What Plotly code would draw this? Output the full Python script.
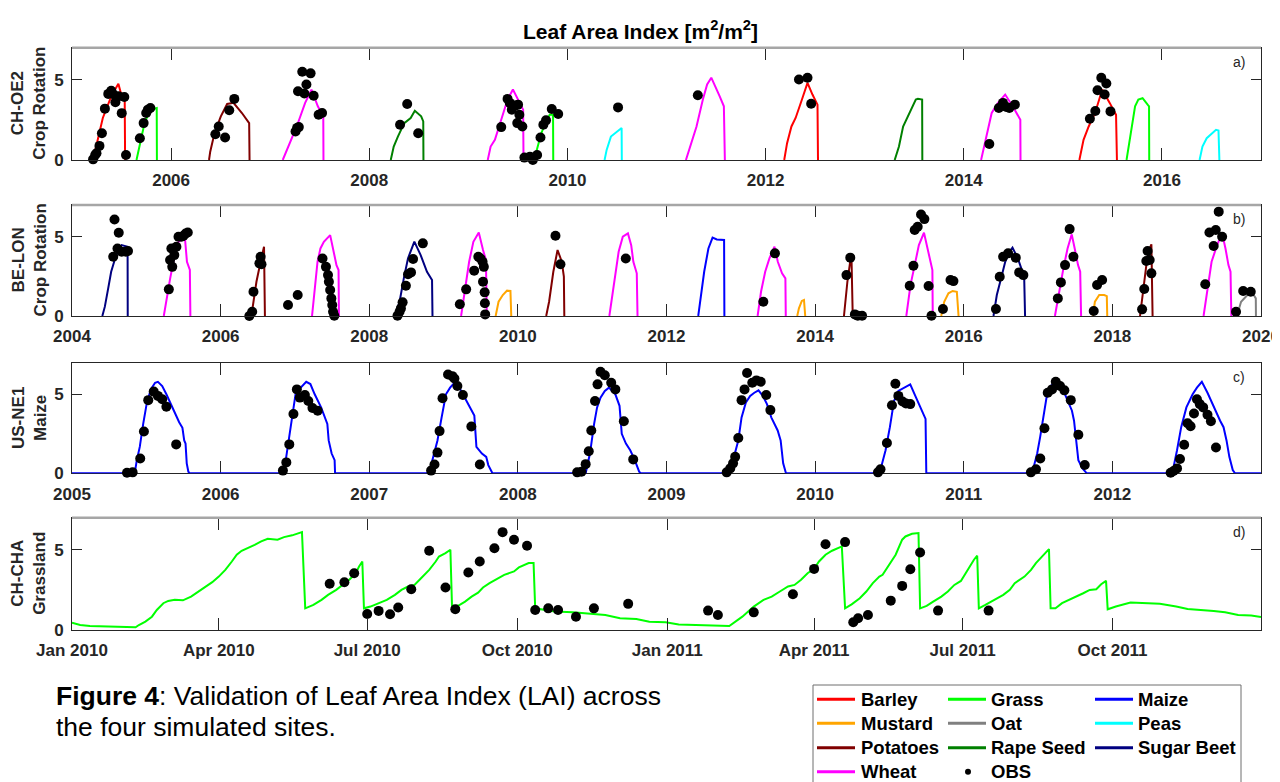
import pandas as pd
import plotly.graph_objects as go

FONT = "Liberation Sans, Arial, Helvetica, sans-serif"
AX = "#262626"

CROP_COLORS = {
    "Barley": "#FF0000", "Grass": "#00FF00", "Maize": "#0000FF",
    "Mustard": "#FFA500", "Oat": "#808080", "Peas": "#00FFFF",
    "Potatoes": "#800000", "Rape Seed": "#008000", "Sugar Beet": "#000080",
    "Wheat": "#FF00FF",
}
LEGEND_ORDER = [["Barley", "Mustard", "Potatoes", "Wheat"],
                ["Grass", "Oat", "Rape Seed", "OBS"],
                ["Maize", "Peas", "Sugar Beet"]]

# ---------------- Panel a : CH-OE2 crop rotation (decimal years, LAI) ----------------
A_BARLEY_T = [2005.212, 2005.277, 2005.311, 2005.396, 2005.468, 2005.502, 2005.532, 2005.536, None,
              2012.188, 2012.217, 2012.261, 2012.303, 2012.367, 2012.423, 2012.473, 2012.524, 2012.529, None,
              2015.167, 2015.209, 2015.261, 2015.325, 2015.367, 2015.397, 2015.473, 2015.537, 2015.546]
A_BARLEY_V = [0, 1.67, 2.62, 3.97, 4.75, 3.97, 3.77, 0, None,
              0, 1.05, 2.09, 2.62, 3.77, 4.81, 4.08, 3.45, 0, None,
              0, 1.26, 2.09, 2.93, 3.77, 4.39, 3.56, 2.82, 0]
A_GRASS_T = [2005.651, 2005.694, 2005.736, 2005.800, 2005.855, 2005.857, None,
             2009.664, 2009.694, 2009.736, 2009.779, 2009.821, 2009.855, 2009.857, None,
             2015.643, 2015.665, 2015.695, 2015.729, 2015.762, 2015.805, 2015.856, 2015.870, 2015.872]
A_GRASS_V = [0, 1.26, 2.41, 3.14, 3.24, 0, None,
             0, 0.63, 1.67, 2.30, 2.82, 2.82, 0, None,
             0, 0.84, 2.09, 3.35, 3.77, 3.85, 3.45, 3.35, 0]
A_POTATOES_T = [2006.383, 2006.395, 2006.438, 2006.502, 2006.566, 2006.630, 2006.715, 2006.788, 2006.792]
A_POTATOES_V = [0, 0.52, 1.67, 2.72, 3.49, 3.56, 2.93, 2.30, 0]
A_WHEAT_T = [2007.127, 2007.162, 2007.204, 2007.268, 2007.353, 2007.417, 2007.481, 2007.536, 2007.538, None,
             2009.196, 2009.225, 2009.268, 2009.332, 2009.396, 2009.450, 2009.502, 2009.553, 2009.557, None,
             2011.196, 2011.239, 2011.303, 2011.367, 2011.410, 2011.452, 2011.494, 2011.537, 2011.579, 2011.589, None,
             2014.175, 2014.218, 2014.282, 2014.346, 2014.418, 2014.494, 2014.558, 2014.571, 2014.573]
A_WHEAT_V = [0, 0.52, 1.05, 2.09, 3.56, 4.39, 3.35, 2.72, 0, None,
             0, 0.84, 1.26, 2.51, 3.77, 4.39, 3.77, 3.14, 0, None,
             0, 0.84, 2.09, 3.77, 4.71, 5.13, 4.60, 3.97, 3.35, 0, None,
             0, 1.26, 2.93, 3.56, 4.08, 3.35, 2.72, 2.51, 0]
A_RAPE_T = [2008.217, 2008.247, 2008.289, 2008.353, 2008.418, 2008.460, 2008.524, 2008.545, 2008.547, None,
            2013.303, 2013.346, 2013.388, 2013.431, 2013.473, 2013.516, 2013.537, 2013.567, 2013.580, 2013.582]
A_RAPE_V = [0, 0.84, 1.46, 2.30, 2.62, 3.07, 2.72, 2.41, 0, None,
            0, 0.84, 2.09, 2.62, 3.14, 3.77, 3.81, 3.77, 3.77, 0]
A_PEAS_T = [2010.375, 2010.396, 2010.439, 2010.481, 2010.515, 2010.547, 2010.549, None,
            2016.380, 2016.409, 2016.452, 2016.494, 2016.546, 2016.571, 2016.580]
A_PEAS_V = [0, 0.63, 1.46, 1.67, 1.88, 1.99, 0, None,
            0, 0.84, 1.36, 1.57, 1.88, 1.84, 0]
A_OBS_T = [2005.213, 2005.234, 2005.247, 2005.277, 2005.302, 2005.332, 2005.366, 2005.396, 2005.417, 2005.438,
           2005.472, 2005.502, 2005.528, 2005.545,
           2005.685, 2005.723, 2005.749, 2005.766, 2005.791,
           2006.447, 2006.481, 2006.545, 2006.587, 2006.638,
           2007.256, 2007.272, 2007.289, 2007.281, 2007.324, 2007.345, 2007.366, 2007.408, 2007.439, 2007.489, 2007.524,
           2008.311, 2008.383, 2008.494,
           2009.332, 2009.396, 2009.418, 2009.439, 2009.468, 2009.502, 2009.515, 2009.494, 2009.545, 2009.566,
           2009.622, 2009.651, 2009.694, 2009.728, 2009.757, 2009.784, 2009.842, 2009.907,
           2010.511, 2011.316,
           2012.337, 2012.423, 2012.460,
           2014.258, 2014.354, 2014.396, 2014.430, 2014.460, 2014.516,
           2015.273, 2015.328, 2015.350, 2015.388, 2015.439, 2015.422, 2015.481]
A_OBS_V = [0.04, 0.31, 0.42, 0.88, 1.67, 3.20, 4.12, 4.31, 4.10, 3.60,
           3.97, 2.92, 3.93, 0.31,
           1.36, 2.30, 2.93, 3.14, 3.24,
           1.61, 2.09, 1.40, 3.10, 3.81,
           1.78, 2.00, 2.05, 4.29, 5.50, 4.14, 4.71, 5.40, 4.00, 2.82, 2.93,
           2.20, 3.49, 1.67,
           2.05, 3.81, 3.56, 3.14, 3.39, 3.45, 2.82, 2.30, 2.09, 0.15,
           0.21, 0.00, 0.31, 1.40, 2.20, 2.47, 3.18, 2.87,
           3.28, 4.04,
           5.02, 5.13, 3.51,
           1.00, 3.24, 3.56, 3.31, 3.24, 3.45,
           2.57, 3.05, 4.35, 5.13, 4.77, 4.08, 3.03]

# ---------------- Panel b : BE-LON crop rotation ----------------
B_SUGARBEET_T = [2004.408, 2004.442, 2004.487, 2004.527, 2004.567, 2004.623, 2004.668, 2004.726, 2004.748, 2004.750, None,
                 2008.341, 2008.408, 2008.465, 2008.521, 2008.607, 2008.692, 2008.777, 2008.845, 2008.851, None,
                 2016.400, 2016.445, 2016.502, 2016.558, 2016.615, 2016.656, 2016.728, 2016.785, 2016.813, 2016.825]
B_SUGARBEET_V = [0, 0.59, 1.74, 2.79, 3.42, 4.16, 4.47, 4.37, 4.37, 0, None,
                 0, 0.90, 2.37, 3.63, 4.69, 3.84, 2.79, 2.27, 0, None,
                 0, 1.32, 2.37, 3.42, 4.05, 4.31, 3.63, 2.79, 2.48, 0]
B_WHEAT_T = [2005.235, 2005.281, 2005.321, 2005.377, 2005.434, 2005.518, 2005.547, 2005.586, 2005.593, None,
             2007.230, 2007.276, 2007.304, 2007.343, 2007.389, 2007.474, 2007.531, 2007.559, 2007.587, 2007.592, None,
             2009.236, 2009.287, 2009.344, 2009.401, 2009.474, 2009.531, 2009.570, 2009.582, None,
             2011.231, 2011.299, 2011.356, 2011.412, 2011.481, 2011.525, 2011.554, 2011.600, 2011.610, None,
             2013.226, 2013.272, 2013.328, 2013.385, 2013.453, 2013.498, 2013.555, 2013.600, 2013.605, None,
             2015.227, 2015.283, 2015.340, 2015.396, 2015.465, 2015.509, 2015.555, 2015.578, 2015.583, None,
             2017.227, 2017.284, 2017.341, 2017.397, 2017.453, 2017.493, 2017.538, 2017.567, 2017.579, None,
             2019.227, 2019.278, 2019.335, 2019.409, 2019.477, 2019.522, 2019.562, 2019.590, 2019.601]
B_WHEAT_V = [0, 1.32, 2.37, 3.74, 4.68, 5.00, 3.42, 2.90, 0, None,
             0, 2.16, 3.42, 4.26, 4.68, 5.10, 3.84, 3.21, 2.90, 0, None,
             0, 1.74, 3.42, 4.68, 5.27, 4.16, 3.53, 0, None,
             0, 2.37, 4.05, 5.00, 5.21, 4.47, 3.42, 2.69, 0, None,
             0, 1.53, 2.79, 3.63, 4.37, 3.42, 2.69, 2.37, 0, None,
             0, 1.95, 3.21, 4.47, 5.25, 4.26, 3.21, 2.90, 0, None,
             0, 1.53, 3.00, 4.26, 5.15, 4.26, 3.21, 2.79, 0, None,
             0, 1.74, 3.42, 4.47, 5.21, 4.26, 3.21, 2.79, 0]
B_POTATOES_T = [2006.414, 2006.482, 2006.538, 2006.584, 2006.596, None,
                2010.381, 2010.420, 2010.477, 2010.534, 2010.591, 2010.619, 2010.625, None,
                2014.388, 2014.434, 2014.478, 2014.490, 2014.506, None,
                2018.372, 2018.411, 2018.457, 2018.502, 2018.525, 2018.541]
B_POTATOES_V = [0, 2.16, 3.42, 4.37, 0, None,
                0, 0.90, 2.79, 4.16, 3.42, 2.48, 0, None,
                0, 2.16, 3.63, 3.53, 0, None,
                0, 1.53, 3.21, 4.26, 4.52, 0]
B_MUSTARD_T = [2009.701, 2009.740, 2009.797, 2009.854, 2009.900, 2009.911, None,
               2013.759, 2013.782, 2013.821, 2013.850, 2013.867, None,
               2015.697, 2015.737, 2015.794, 2015.850, 2015.907, 2015.930, None,
               2017.736, 2017.765, 2017.823, 2017.890, 2017.925, 2017.931]
B_MUSTARD_V = [0, 0.90, 1.32, 1.60, 1.58, 0, None,
               0, 0.48, 0.95, 1.01, 0, None,
               0, 0.90, 1.43, 1.58, 1.53, 0, None,
               0, 0.90, 1.32, 1.32, 1.25, 0]
B_MAIZE_T = [2012.427, 2012.461, 2012.507, 2012.564, 2012.620, 2012.677, 2012.775, 2012.779]
B_MAIZE_V = [0, 1.32, 2.79, 4.26, 4.94, 4.83, 4.79, 0]
B_OAT_T = [2019.675, 2019.732, 2019.817, 2019.856, 2019.902, 2019.930, 2019.932]
B_OAT_V = [0, 0.90, 1.32, 1.47, 1.32, 1.11, 0]
B_OBS_T = [2004.572, 2004.629, 2004.555, 2004.612, 2004.668, 2004.725, 2004.754,
           2005.303, 2005.320, 2005.349, 2005.337, 2005.377, 2005.405, 2005.433, 2005.473, 2005.501, 2005.530, 2005.558,
           2006.386, 2006.425, 2006.442, 2006.522, 2006.538, 2006.550,
           2006.907, 2007.037,
           2007.371, 2007.417, 2007.445, 2007.457, 2007.474, 2007.490, 2007.502, 2007.513, 2007.530,
           2008.380, 2008.408, 2008.426, 2008.449, 2008.493, 2008.522, 2008.562, 2008.590, 2008.721,
           2009.219, 2009.304, 2009.412, 2009.468, 2009.497, 2009.525, 2009.542, 2009.531, 2009.553, 2009.556, 2009.560,
           2010.506, 2010.573,
           2011.452,
           2013.303, 2013.459,
           2014.422, 2014.473, 2014.535, 2014.574, 2014.632,
           2015.273, 2015.323, 2015.340, 2015.380, 2015.425, 2015.470, 2015.527, 2015.566,
           2015.720, 2015.822, 2015.861,
           2016.433, 2016.484, 2016.530, 2016.597, 2016.700, 2016.746, 2016.802,
           2017.266, 2017.307, 2017.363, 2017.425, 2017.476,
           2017.749, 2017.794, 2017.862,
           2018.400, 2018.429, 2018.457, 2018.474, 2018.502, 2018.525,
           2019.250, 2019.306, 2019.391, 2019.363, 2019.477, 2019.431,
           2019.664, 2019.760, 2019.862]
B_OBS_V = [6.09, 5.25, 3.74, 4.26, 4.05, 4.05, 4.10,
           1.68, 3.53, 3.10, 4.26, 3.84, 4.37, 5.00, 5.00, 5.06, 5.20, 5.27,
           0.00, 0.27, 1.53, 3.32, 3.74, 3.26,
           0.69, 1.32,
           3.63, 3.10, 2.58, 2.16, 1.64, 1.11, 0.69, 0.27, 0.02,
           0.02, 0.27, 0.48, 0.86, 1.91, 2.63, 2.75, 3.59, 4.58,
           0.74, 1.68, 2.86, 3.74, 3.63, 3.42, 3.10, 2.16, 1.49, 0.80, 0.10,
           5.06, 3.26,
           3.63,
           0.90, 3.95,
           2.58, 3.68, 0.10, 0.02, 0.02,
           1.91, 3.17, 5.42, 5.63, 6.40, 6.11, 1.89, 0.02,
           0.44, 2.27, 2.20,
           0.44, 2.48, 3.74, 3.95, 3.68, 2.75, 2.58,
           1.11, 2.12, 3.21, 5.48, 3.74,
           0.32, 1.95, 2.27,
           0.42, 1.70, 3.47, 4.10, 3.53, 2.69,
           2.00, 5.27, 5.42, 4.41, 5.00, 6.58,
           0.27, 1.58, 1.53]

# ---------------- Panel c : US-NE1 maize ----------------
C_MAIZE_T = [2005.000,
             2005.422, 2005.436, 2005.456, 2005.479, 2005.502, 2005.530, 2005.559, 2005.578, 2005.607, 2005.635,
             2005.664, 2005.692, 2005.721, 2005.743, 2005.755, 2005.764, 2005.772, 2005.783, 2005.792,
             2006.425, 2006.448, 2006.476, 2006.504, 2006.539, 2006.576, 2006.604, 2006.633, 2006.676, 2006.718,
             2006.727, 2006.747, 2006.767, 2006.770,
             2007.402, 2007.431, 2007.459, 2007.487, 2007.516, 2007.544, 2007.573, 2007.601, 2007.645, 2007.678,
             2007.707, 2007.721, 2007.758, 2007.787, 2007.801, 2007.829,
             2008.456, 2008.485, 2008.513, 2008.533, 2008.556, 2008.585, 2008.613, 2008.656, 2008.684, 2008.699,
             2008.727, 2008.756, 2008.784, 2008.816, 2008.827,
             2009.391, 2009.420, 2009.454, 2009.483, 2009.505, 2009.534, 2009.563, 2009.591, 2009.619, 2009.648,
             2009.676, 2009.705, 2009.748, 2009.768, 2009.785, 2009.804,
             2010.417, 2010.445, 2010.474, 2010.503, 2010.531, 2010.560, 2010.602, 2010.640, 2010.674, 2010.702,
             2010.743, 2010.748,
             2011.443, 2011.471, 2011.494, 2011.514, 2011.537, 2011.557, 2011.586, 2011.619, 2011.648, 2011.671,
             2011.699, 2011.728, 2011.742, 2011.756, 2011.771, 2011.799, 2011.828,
             2012.383, 2012.412, 2012.435, 2012.463, 2012.498, 2012.540, 2012.569, 2012.602, 2012.640, 2012.682,
             2012.725, 2012.748, 2012.768, 2012.787, 2012.810, 2012.825,
             2013.000]
C_MAIZE_V = [0,
             0, 0.83, 1.67, 3.13, 4.38, 5.31, 5.73, 5.79, 5.52, 5.00,
             4.38, 3.75, 3.23, 2.88, 2.08, 1.88, 0.63, 0.10, 0,
             0, 1.46, 3.54, 5.00, 5.42, 5.79, 5.65, 5.00, 4.17, 3.13,
             2.08, 1.25, 0.83, 0,
             0, 1.04, 2.08, 3.54, 5.00, 5.42, 5.73, 5.52, 4.79, 4.17,
             3.65, 1.67, 1.25, 1.04, 0.52, 0,
             0, 1.25, 3.13, 4.17, 4.79, 5.21, 5.42, 5.00, 4.27, 2.50,
             1.88, 1.46, 0.90, 0.10, 0,
             0, 0.42, 1.04, 2.08, 3.54, 4.48, 4.90, 5.10, 5.25, 4.90,
             4.38, 3.54, 2.71, 2.08, 0.63, 0,
             0, 0.42, 1.46, 2.92, 4.58, 5.21, 5.42, 5.63, 4.90, 4.27,
             3.44, 0,
             0, 0.42, 1.25, 2.29, 3.54, 4.79, 5.52, 5.83, 5.73, 5.21,
             4.69, 3.96, 3.33, 2.08, 0.83, 0.31, 0,
             0, 0.42, 1.46, 2.92, 4.17, 5.00, 5.42, 5.79, 5.10, 4.17,
             3.33, 2.92, 2.08, 1.04, 0.21, 0,
             0]
C_OBS_T = [2005.370, 2005.408, 2005.459, 2005.484, 2005.513, 2005.550, 2005.578, 2005.607, 2005.635, 2005.701,
           2006.419, 2006.442, 2006.462, 2006.490, 2006.513, 2006.533, 2006.567, 2006.590, 2006.618, 2006.653,
           2007.416, 2007.439, 2007.459, 2007.473, 2007.493, 2007.530, 2007.559, 2007.573, 2007.593, 2007.630,
           2007.687, 2007.744,
           2008.399, 2008.428, 2008.456, 2008.477, 2008.494, 2008.519, 2008.536, 2008.556, 2008.585, 2008.628,
           2008.656, 2008.713, 2008.776,
           2009.405, 2009.429, 2009.448, 2009.462, 2009.483, 2009.505, 2009.525, 2009.542, 2009.577, 2009.605,
           2009.634, 2009.671, 2009.699,
           2010.423, 2010.440, 2010.483, 2010.517, 2010.540, 2010.560, 2010.588, 2010.611, 2010.640,
           2011.452, 2011.486, 2011.515, 2011.543, 2011.565, 2011.594, 2011.619, 2011.648, 2011.677, 2011.720,
           2011.771, 2011.814,
           2012.392, 2012.412, 2012.435, 2012.455, 2012.483, 2012.506, 2012.526, 2012.549, 2012.569, 2012.588,
           2012.611, 2012.640, 2012.663, 2012.697]
C_OBS_V = [0.04, 0.06, 0.94, 2.65, 4.63, 5.17, 4.90, 4.69, 4.21, 1.83,
           0.17, 0.69, 1.83, 3.75, 5.31, 4.79, 4.96, 4.58, 4.13, 3.96,
           0.17, 0.56, 1.31, 2.67, 4.75, 6.25, 6.15, 6.00, 5.52, 4.96,
           2.96, 0.56,
           0.06, 0.10, 0.58, 1.40, 2.71, 4.58, 5.63, 6.42, 6.21, 5.73,
           5.31, 3.29, 0.88,
           0.06, 0.31, 0.63, 1.04, 2.23, 4.63, 5.31, 6.35, 5.73, 5.88,
           5.79, 4.96, 4.00,
           0.06, 0.25, 1.92, 4.31, 5.67, 4.90, 4.54, 4.42, 4.38,
           0.06, 0.25, 0.94, 2.85, 5.10, 5.31, 5.79, 5.52, 5.25, 4.63,
           2.44, 0.52,
           0.04, 0.15, 0.31, 0.90, 1.81, 3.17, 2.98, 3.79, 4.69, 4.38,
           4.17, 3.71, 3.29, 1.63]

# ---------------- Panel d : CH-CHA grassland (days since 2010-01-01, LAI) ----------------
D_START = "2010-01-01"
D_GRASS = [(0, 0.46), (5, 0.31), (11, 0.25), (23, 0.21), (33, 0.17), (39, 0.17), (41, 0.31), (45, 0.52),
           (49, 0.83), (52, 1.25), (56, 1.67), (59, 1.81), (63, 1.88), (68, 1.85), (73, 2.08), (77, 2.35),
           (82, 2.71), (86, 2.98), (90, 3.33), (94, 3.75), (98, 4.27), (101, 4.69), (104, 4.94), (108, 5.10),
           (112, 5.31), (116, 5.52), (120, 5.69), (126, 5.63), (130, 5.79), (135, 5.90), (139, 6.04), (141, 6.10),
           (143, 1.35), (148, 1.56), (153, 1.88), (157, 2.19), (162, 2.50), (166, 2.81), (170, 3.13), (174, 3.54),
           (176, 3.96), (178, 4.27), (179, 1.35), (183, 1.46), (188, 1.67), (193, 1.88), (198, 2.19), (202, 2.50),
           (206, 2.71), (210, 2.81), (214, 3.23), (219, 3.75), (223, 4.27), (225, 4.58), (229, 4.79), (232, 5.00),
           (233, 1.46), (237, 1.52), (241, 1.77), (245, 2.08), (249, 2.33), (252, 2.65), (256, 2.92), (260, 3.13),
           (265, 3.44), (271, 3.65), (274, 3.90), (280, 4.17), (283, 4.17), (284, 1.35), (289, 1.25), (296, 1.15),
           (307, 1.10), (317, 1.04), (327, 0.94), (336, 0.73), (346, 0.69), (354, 0.52), (364, 0.48), (372, 0.35),
           (387, 0.31), (403, 0.25), (411, 0.83), (418, 1.46), (424, 1.88), (429, 2.08), (434, 2.40), (439, 2.71),
           (443, 2.81), (447, 3.13), (451, 3.54), (455, 3.81), (458, 4.27), (462, 4.69), (466, 4.94), (470, 5.10),
           (472, 5.21), (474, 1.35), (478, 1.60), (483, 1.98), (487, 2.40), (491, 2.92), (495, 3.33), (497, 3.44),
           (501, 4.06), (505, 4.69), (509, 5.63), (511, 5.83), (515, 6.00), (519, 6.04), (520, 1.35), (524, 1.50),
           (528, 1.77), (533, 2.08), (537, 2.40), (541, 2.81), (545, 3.06), (549, 3.75), (553, 4.38), (555, 4.63),
           (556, 1.35), (560, 1.56), (566, 1.88), (571, 2.19), (575, 2.50), (578, 2.92), (584, 3.33), (588, 3.75),
           (591, 4.17), (595, 4.58), (599, 5.04), (600, 1.35), (603, 1.35), (607, 1.67), (613, 1.94), (620, 2.29),
           (624, 2.50), (628, 2.54), (631, 2.85), (634, 3.06), (635, 1.29), (640, 1.46), (649, 1.71), (658, 1.67),
           (667, 1.63), (677, 1.46), (684, 1.31), (700, 1.19), (707, 1.10), (715, 0.94), (723, 0.90), (729, 0.81)]
D_OBS = [(158, 2.88), (167, 2.98), (173, 3.54), (181, 1.00), (188, 1.19), (195, 0.98), (200, 1.40), (208, 2.54),
         (219, 4.94), (229, 2.65), (235, 1.29), (243, 3.58), (250, 4.27), (259, 5.10), (264, 6.10), (271, 5.63),
         (279, 5.25), (284, 1.25), (292, 1.35), (298, 1.25), (309, 0.83), (320, 1.35), (341, 1.63), (390, 1.21),
         (396, 0.94), (418, 1.10), (442, 2.23), (455, 3.81), (462, 5.35), (474, 5.48), (479, 0.48), (482, 0.73),
         (488, 0.94), (502, 1.83), (509, 2.75), (514, 3.79), (520, 4.83), (531, 1.21), (562, 1.21)]
D_TICKS = ["2010-01-01", "2010-04-01", "2010-07-01", "2010-10-01", "2011-01-01", "2011-04-01", "2011-07-01", "2011-10-01"]
D_TICKTEXT = ["Jan 2010", "Apr 2010", "Jul 2010", "Oct 2010", "Jan 2011", "Apr 2011", "Jul 2011", "Oct 2011"]


def to_dates(pairs):
    days = [p[0] for p in pairs]
    return list(pd.Timestamp(D_START) + pd.to_timedelta(days, unit="D")), [p[1] for p in pairs]


# ---------------- layout geometry (page has an 8px body margin) ----------------
OFF = 8
W, H = 1280 - OFF, 782 - OFF
ML, MR = 72 - OFF, 19
PW = W - ML - MR
PH = H - 10   # observed effective paper height


def px_x(p):
    return (p - OFF - ML) / PW


def px_y(p):
    return 1 - (p - OFF) / PH


DOMAINS = {1: [px_y(160), px_y(47.7)], 2: [px_y(316), px_y(205)],
           3: [px_y(473.3), px_y(362.7)], 4: [px_y(630), px_y(517.7)]}

fig = go.Figure()


def add_line(n, t, v, crop):
    fig.add_trace(go.Scatter(x=t, y=v, mode="lines", name=crop,
                             line=dict(color=CROP_COLORS[crop], width=2),
                             xaxis="x" if n == 1 else f"x{n}", yaxis="y" if n == 1 else f"y{n}",
                             showlegend=False, connectgaps=False, hoverinfo="skip"))


def add_obs(n, t, v):
    fig.add_trace(go.Scatter(x=t, y=v, mode="markers", name="OBS",
                             marker=dict(color="black", size=10, line=dict(width=0)),
                             xaxis="x" if n == 1 else f"x{n}", yaxis="y" if n == 1 else f"y{n}",
                             showlegend=False, cliponaxis=False))


# panel a
add_line(1, A_BARLEY_T, A_BARLEY_V, "Barley")
add_line(1, A_GRASS_T, A_GRASS_V, "Grass")
add_line(1, A_POTATOES_T, A_POTATOES_V, "Potatoes")
add_line(1, A_WHEAT_T, A_WHEAT_V, "Wheat")
add_line(1, A_RAPE_T, A_RAPE_V, "Rape Seed")
add_line(1, A_PEAS_T, A_PEAS_V, "Peas")
add_obs(1, A_OBS_T, A_OBS_V)
# panel b
add_line(2, B_SUGARBEET_T, B_SUGARBEET_V, "Sugar Beet")
add_line(2, B_WHEAT_T, B_WHEAT_V, "Wheat")
add_line(2, B_POTATOES_T, B_POTATOES_V, "Potatoes")
add_line(2, B_MUSTARD_T, B_MUSTARD_V, "Mustard")
add_line(2, B_MAIZE_T, B_MAIZE_V, "Maize")
add_line(2, B_OAT_T, B_OAT_V, "Oat")
add_obs(2, B_OBS_T, B_OBS_V)
# panel c
add_line(3, C_MAIZE_T, C_MAIZE_V, "Maize")
add_obs(3, C_OBS_T, C_OBS_V)
# panel d
dg_t, dg_v = to_dates(D_GRASS)
add_line(4, dg_t, dg_v, "Grass")
do_t, do_v = to_dates(D_OBS)
add_obs(4, do_t, do_v)

TICKFONT = dict(family=FONT, size=17, color=AX, weight="bold")


def xaxis(n, **kw):
    d = dict(domain=[0, 1], anchor="y" if n == 1 else f"y{n}", showline=True, linecolor=AX, linewidth=1,
             mirror="ticks", ticks="inside", ticklen=12, tickwidth=1, tickcolor=AX, showgrid=False,
             zeroline=False, tickfont=TICKFONT, ticklabelstandoff=5)
    d.update(kw)
    return d


def yaxis(n, **kw):
    d = dict(domain=DOMAINS[n], anchor="x" if n == 1 else f"x{n}", range=[0, 7], tickvals=[0, 5],
             showline=True, linecolor=AX, linewidth=1, mirror="ticks", ticks="inside", ticklen=10,
             tickwidth=1, tickcolor=AX, showgrid=False, zeroline=False, tickfont=TICKFONT,
             ticklabelstandoff=4)
    d.update(kw)
    return d


fig.update_layout(
    width=W, height=H, paper_bgcolor="white", plot_bgcolor="white",
    margin=dict(l=ML, r=MR, t=0, b=0, pad=0), showlegend=False,
    xaxis=xaxis(1, range=[2005, 2017], tickvals=list(range(2006, 2017, 2))),
    yaxis=yaxis(1),
    xaxis2=xaxis(2, range=[2004, 2020], tickvals=list(range(2004, 2021, 2))),
    yaxis2=yaxis(2),
    xaxis3=xaxis(3, range=[2005, 2013], tickvals=list(range(2005, 2013)), layer="below traces"),
    yaxis3=yaxis(3, layer="below traces"),
    xaxis4=xaxis(4, type="date", range=["2010-01-01", "2011-12-31"], tickvals=D_TICKS, ticktext=D_TICKTEXT),
    yaxis4=yaxis(4),
)

shapes = []
# gray top borders (panels a, b, d)
for n in (1, 2, 4):
    sx = "x" if n == 1 else f"x{n}"
    sy = "y" if n == 1 else f"y{n}"
    shapes.append(dict(type="line", xref=f"{sx} domain", yref=f"{sy} domain", x0=0, x1=1, y0=1, y1=1,
                       line=dict(color="#a6a6a6", width=2.5)))

annotations = []
YTITLES = {1: ("CH-OE2", "Crop Rotation"), 2: ("BE-LON", "Crop Rotation"),
           3: ("US-NE1", "Maize"), 4: ("CH-CHA", "Grassland")}
PANEL_LABELS = {1: "a)", 2: "b)", 3: "c)", 4: "d)"}
for n in (1, 2, 3, 4):
    sx = "x" if n == 1 else f"x{n}"
    sy = "y" if n == 1 else f"y{n}"
    l1, l2 = YTITLES[n]
    annotations.append(dict(text=f"<b>{l1}</b><br><b>{l2}</b>", textangle=-90, showarrow=False,
                            xref="paper", x=px_x(29), xanchor="center", yref=f"{sy} domain", y=0.5,
                            yanchor="middle", font=dict(family=FONT, size=17, color=AX)))
    annotations.append(dict(text=PANEL_LABELS[n], showarrow=False, xref=f"{sx} domain", x=0.988,
                            xanchor="right", yref=f"{sy} domain", y=0.87, yanchor="middle",
                            font=dict(family=FONT, size=14, color=AX)))

annotations.append(dict(text="<b>Leaf Area Index [m<sup>2</sup>/m<sup>2</sup>]</b>", showarrow=False,
                        xref="paper", x=px_x(640), xanchor="center", yref="paper", y=px_y(30),
                        yanchor="middle", font=dict(family=FONT, size=21, color="black")))

# caption
annotations.append(dict(text="<b>Figure 4</b>: Validation of Leaf Area Index (LAI) across", showarrow=False,
                        xref="paper", x=px_x(54), xanchor="left", yref="paper", y=px_y(696), yanchor="middle",
                        font=dict(family=FONT, size=26.5, color="black")))
annotations.append(dict(text="the four simulated sites.", showarrow=False,
                        xref="paper", x=px_x(54), xanchor="left", yref="paper", y=px_y(727), yanchor="middle",
                        font=dict(family=FONT, size=26.5, color="black")))

# legend box (manual, 3 columns)
shapes.append(dict(type="rect", xref="paper", yref="paper", x0=px_x(813), x1=px_x(1241),
                   y0=px_y(800), y1=px_y(685), line=dict(color="#6e6e6e", width=1), fillcolor="white",
                   layer="below"))
COL_LINE_X = [(817, 855), (948, 986), (1095, 1133)]
COL_TEXT_X = [859, 989, 1136]
ROW_Y = [699.3, 723.3, 747.7, 771.7]
for ci, col in enumerate(LEGEND_ORDER):
    for ri, name in enumerate(col):
        yy = px_y(ROW_Y[ri])
        if name == "OBS":
            shapes.append(dict(type="circle", xref="paper", yref="paper", xsizemode="pixel",
                               ysizemode="pixel", xanchor=px_x(968), yanchor=yy, x0=-3, x1=3, y0=-3, y1=3,
                               fillcolor="black", line=dict(color="black", width=0)))
        else:
            x0, x1 = COL_LINE_X[ci]
            shapes.append(dict(type="line", xref="paper", yref="paper", x0=px_x(x0), x1=px_x(x1),
                               y0=yy, y1=yy, line=dict(color=CROP_COLORS[name], width=3)))
        annotations.append(dict(text=f"<b>{name}</b>", showarrow=False, xref="paper", x=px_x(COL_TEXT_X[ci]),
                                xanchor="left", yref="paper", y=yy, yanchor="middle",
                                font=dict(family=FONT, size=18.5, color="black")))

fig.update_layout(shapes=shapes, annotations=annotations)
fig.write_html("out.html")
